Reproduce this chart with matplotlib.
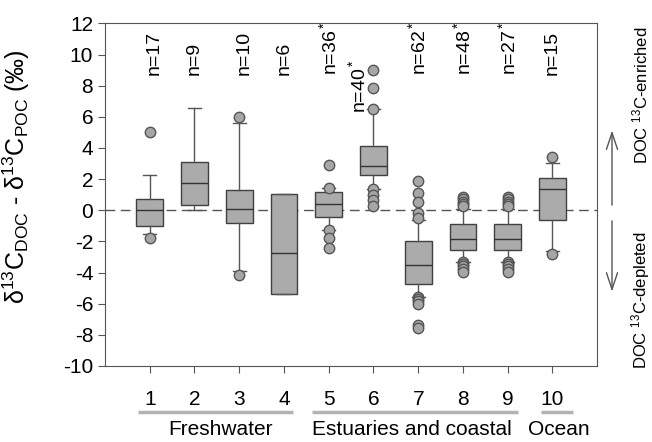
import matplotlib
matplotlib.use("Agg")
import matplotlib.pyplot as plt

plt.rcParams['font.family'] = ['Liberation Sans', 'DejaVu Sans']
plt.rcParams['mathtext.fontset'] = 'custom'
plt.rcParams['mathtext.rm'] = 'Liberation Sans'
plt.rcParams['mathtext.it'] = 'Liberation Sans:italic'
plt.rcParams['mathtext.default'] = 'rm'
plt.rcParams['axes.unicode_minus'] = False

# box statistics
positions = [1, 2, 3, 4, 5, 6, 7, 8, 9, 10]
medians = [0.0, 1.74, 0.08, -2.74, 0.42, 2.87, -3.54, -1.83, -1.83, 1.38]
q1 = [-1.0, 0.35, -0.82, -5.37, -0.46, 2.27, -4.73, -2.53, -2.53, -0.65]
q3 = [0.72, 3.1, 1.27, 1.04, 1.19, 4.15, -1.98, -0.91, -0.91, 2.06]
whislo = [-1.5, 0.0, -3.88, -5.37, -1.25, 1.36, -5.58, -3.32, -3.32, -2.6]
whishi = [2.27, 6.6, 5.59, 1.04, 1.42, 6.5, -0.62, 0.1, 0.1, 3.03]
fliers = [
    [5.0, -1.8],
    [],
    [6.0, -4.15],
    [],
    [2.9, 1.42, -1.25, -1.8, -2.4],
    [9.0, 7.85, 6.5, 1.35, 1.0, 0.65, 0.3],
    [1.9, 1.1, 0.5, -0.18, -0.5, -5.55, -5.7, -5.85, -6.0, -7.35, -7.55],
    [0.85, 0.7, 0.55, 0.4, 0.25, -3.3, -3.45, -3.6, -3.75, -3.95],
    [0.85, 0.7, 0.55, 0.4, 0.25, -3.3, -3.45, -3.6, -3.75, -3.95],
    [3.45, -2.8],
]
n_labels = ['n=17', 'n=9', 'n=10', 'n=6', 'n=36$^*$', 'n=40$^*$',
            'n=62$^*$', 'n=48$^*$', 'n=27$^*$', 'n=15']
n_x = [1.1, 2.0, 3.1, 4.0, 5.0, 5.66, 7.0, 8.0, 9.0, 10.0]
n_y = [8.7, 8.7, 8.7, 8.7, 8.7, 6.25, 8.7, 8.7, 8.7, 8.7]
groups = ['Freshwater', 'Estuaries and coastal', 'Ocean']
group_lines = [(0.73, 4.21), (4.62, 9.22), (9.74, 10.46)]
group_text_x = [2.59, 6.86, 10.14]

stats = []
for i in range(len(positions)):
    stats.append({'med': medians[i], 'q1': q1[i], 'q3': q3[i],
                  'whislo': whislo[i], 'whishi': whishi[i], 'fliers': fliers[i]})

fig = plt.figure(figsize=(6.52, 4.42), dpi=100)
ax = fig.add_axes([0.161, 0.172, 0.755, 0.775])

ax.axhline(0, color='#555555', lw=1, ls=(0, (7, 4)), zorder=1)

ax.bxp(stats, positions=positions, widths=0.6, patch_artist=True,
       boxprops=dict(facecolor='#ababab', edgecolor='#404040', lw=1),
       medianprops=dict(color='#333333', lw=1),
       whiskerprops=dict(color='#555555', lw=1),
       capprops=dict(color='#555555', lw=1),
       flierprops=dict(marker='o', markerfacecolor='#a6a6a6',
                       markeredgecolor='#555555', markersize=7.5, lw=0))

ax.set_xlim(0, 11)
ax.set_ylim(-10, 12)
ax.set_yticks(range(-10, 13, 2))
ax.set_xticks(positions)
ax.set_xticklabels([str(p) for p in positions])
ax.tick_params(direction='out', length=5, color='#555555', labelsize=15)
ax.tick_params(axis='x', pad=12)
for s in ax.spines.values():
    s.set_color('#555555')

for lab, x, y in zip(n_labels, n_x, n_y):
    ax.text(x, y, lab, rotation=90, ha='center', va='bottom', fontsize=14)

ax.set_ylabel('δ$^{13}$C$_{DOC}$ - δ$^{13}$C$_{POC}$ (‰)', fontsize=18)
ax.yaxis.set_label_coords(-0.148, 0.554)

# group lines below axis
tr = ax.get_xaxis_transform()
for (a, b), name, tx in zip(group_lines, groups, group_text_x):
    ax.plot([a, b], [-0.133, -0.133], color='#b3b3b3', lw=2.5,
            transform=tr, clip_on=False, solid_capstyle='butt')
    ax.text(tx, -0.186, name, transform=tr, ha='center', va='center', fontsize=15)

# right side arrows
ytr = ax.get_yaxis_transform()
ax.annotate('', xy=(1.03, 5.3), xytext=(1.03, 0.15), xycoords=ytr,
            arrowprops=dict(arrowstyle='->,head_length=1.2,head_width=0.4',
                            color='#555555', lw=1), annotation_clip=False)
ax.annotate('', xy=(1.03, -5.4), xytext=(1.03, -0.5), xycoords=ytr,
            arrowprops=dict(arrowstyle='->,head_length=1.2,head_width=0.4',
                            color='#555555', lw=1), annotation_clip=False)
fig.text(0.982, 0.785, 'DOC $^{13}$C-enriched', rotation=90, ha='center', va='center', fontsize=12)
fig.text(0.982, 0.321, 'DOC $^{13}$C-depleted', rotation=90, ha='center', va='center', fontsize=12)

fig.savefig('out.png', dpi=100)
